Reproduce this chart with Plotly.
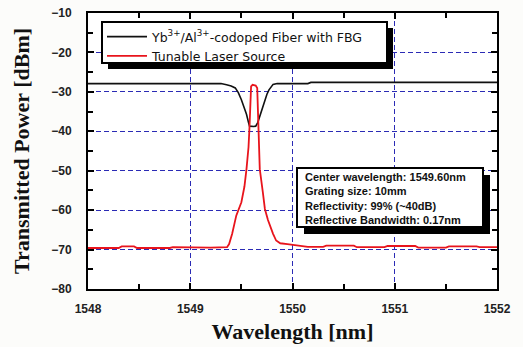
import plotly.graph_objects as go

# ---- data ----
fbg_wl = [1548.0, 1548.5, 1549.0, 1549.30, 1549.355, 1549.40, 1549.44, 1549.47, 1549.50,
          1549.53, 1549.55, 1549.57, 1549.58, 1549.62, 1549.64, 1549.66, 1549.68, 1549.71,
          1549.73, 1549.75, 1549.77, 1549.79, 1549.81, 1549.85, 1550.0, 1550.15, 1550.18,
          1550.5, 1551.0, 1551.5, 1552.0]
fbg_db = [-27.9, -27.9, -27.9, -27.9, -28.2, -28.5, -29.0, -30.2, -32.0,
          -34.0, -35.7, -37.8, -38.7, -38.8, -38.7, -37.8, -36.2, -34.0,
          -32.0, -30.6, -29.5, -28.7, -28.1, -27.9, -27.9, -27.9, -27.6,
          -27.6, -27.6, -27.6, -27.6]

laser_wl = [1548.0, 1548.30, 1548.33, 1548.45, 1548.48, 1548.80, 1548.83, 1549.0, 1549.2,
            1549.36, 1549.38, 1549.41, 1549.45, 1549.50, 1549.53, 1549.55, 1549.57, 1549.58,
            1549.595, 1549.61, 1549.64, 1549.655, 1549.665, 1549.68, 1549.71, 1549.73, 1549.76,
            1549.78, 1549.81, 1549.84, 1549.88, 1549.95, 1550.05, 1550.15, 1550.3, 1550.33,
            1550.6, 1550.63, 1550.9, 1550.93, 1551.2, 1551.23, 1551.5, 1551.53, 1551.8, 1551.83,
            1552.0]
laser_db = [-69.6, -69.6, -69.2, -69.2, -69.6, -69.6, -69.4, -69.5, -69.5,
            -69.4, -68.6, -66.0, -61.4, -58.0, -54.0, -49.6, -44.0, -38.7,
            -28.6, -28.2, -28.4, -29.0, -38.7, -49.6, -55.5, -59.7, -62.5,
            -64.0, -66.0, -67.7, -68.4, -68.6, -69.0, -69.3, -69.3, -69.0,
            -69.0, -69.4, -69.4, -69.1, -69.1, -69.5, -69.5, -69.2, -69.2, -69.4,
            -69.4]

series_names = ["Yb<sup>3+</sup>/Al<sup>3+</sup>-codoped Fiber with FBG", "Tunable Laser Source"]
info_lines = ["Center wavelength: 1549.60nm", "Grating size: 10mm",
              "Reflectivity: 99% (~40dB)", "Reflective Bandwidth: 0.17nm"]

x_range = [1548, 1552]
y_range = [-80, -10]

# ---- geometry helpers (pixel -> paper) ----
W, H = 523, 347
L, R, T, B = 88, 497, 13, 289


def px(x):
    return (x - L) / (R - L)


def py(y):
    return (B - y) / (B - T)


fig = go.Figure()
fig.add_trace(go.Scatter(x=fbg_wl, y=fbg_db, mode="lines", name=series_names[0],
                         line=dict(color="#111111", width=1.6)))
fig.add_trace(go.Scatter(x=laser_wl, y=laser_db, mode="lines", name=series_names[1],
                         line=dict(color="#e8141c", width=1.8)))

grid_blue = "#2b2bb5"
axis_common = dict(showline=True, linecolor="black", linewidth=2, mirror="ticks",
                   ticks="inside", ticklen=6, tickwidth=1.5, tickcolor="black",
                   showgrid=True, gridcolor=grid_blue, gridwidth=1.4, griddash="5px,3px",
                   zeroline=False, automargin=False, tickmode="linear",
                   tickfont=dict(family="Liberation Sans", size=12, color="#222222", weight="bold"))

fig.update_xaxes(range=x_range, tick0=1548, dtick=1,
                 minor=dict(dtick=0.5, ticks="inside", ticklen=5, tickcolor="black", tickwidth=1.5, showgrid=False),
                 title=dict(text="<b>Wavelength [nm]</b>", standoff=8,
                            font=dict(family="Liberation Serif", size=22, color="#111111")),
                 ticklabelstandoff=8, **axis_common)
fig.update_yaxes(range=y_range, tick0=-80, dtick=10,
                 minor=dict(dtick=5, ticks="inside", ticklen=5, tickcolor="black", tickwidth=1.5, showgrid=False),
                 title=dict(text="<b>Transmitted Power [dBm]</b>", standoff=16,
                            font=dict(family="Liberation Serif", size=22, color="#111111")),
                 ticklabelstandoff=12, **axis_common)

# legend box with shadow
lg = dict(x0=102, x1=387, y0=22, y1=63)
sh = 6
fig.add_shape(type="rect", xref="paper", yref="paper", layer="above",
              x0=px(lg["x0"] + sh), x1=px(lg["x1"] + sh), y0=py(lg["y1"] + sh), y1=py(lg["y0"] + sh),
              fillcolor="black", line=dict(width=0))
fig.add_shape(type="rect", xref="paper", yref="paper", layer="above",
              x0=px(lg["x0"]), x1=px(lg["x1"]), y0=py(lg["y1"]), y1=py(lg["y0"]),
              fillcolor="white", line=dict(color="black", width=2))

# info box with shadow
ib = dict(x0=297, x1=483, y0=168, y1=227)
sh2 = 7
fig.add_shape(type="rect", xref="paper", yref="paper", layer="above",
              x0=px(ib["x0"] + sh2), x1=px(ib["x1"] + sh2), y0=py(ib["y1"] + sh2), y1=py(ib["y0"] + sh2),
              fillcolor="black", line=dict(width=0))
fig.add_shape(type="rect", xref="paper", yref="paper", layer="above",
              x0=px(ib["x0"]), x1=px(ib["x1"]), y0=py(ib["y1"]), y1=py(ib["y0"]),
              fillcolor="white", line=dict(color="black", width=2))
fig.add_annotation(xref="paper", yref="paper", x=px(303), y=py(169), xanchor="left", yanchor="top",
                   align="left", showarrow=False, text="<br>".join(info_lines),
                   font=dict(family="Liberation Sans", size=11, color="#111111", weight="bold"))

fig.update_layout(
    width=W, height=H,
    margin=dict(l=L, r=W - R, t=T, b=H - B, autoexpand=False),
    paper_bgcolor="#fcfcfa", plot_bgcolor="white",
    showlegend=True,
    legend=dict(x=px(lg["x0"]), y=py(lg["y0"]), xanchor="left", yanchor="top",
                bgcolor="rgba(0,0,0,0)", borderwidth=0,
                font=dict(family="DejaVu Sans", size=12.5, color="#111111"),
                tracegroupgap=0, itemwidth=40),
)

fig.write_html("out.html")
